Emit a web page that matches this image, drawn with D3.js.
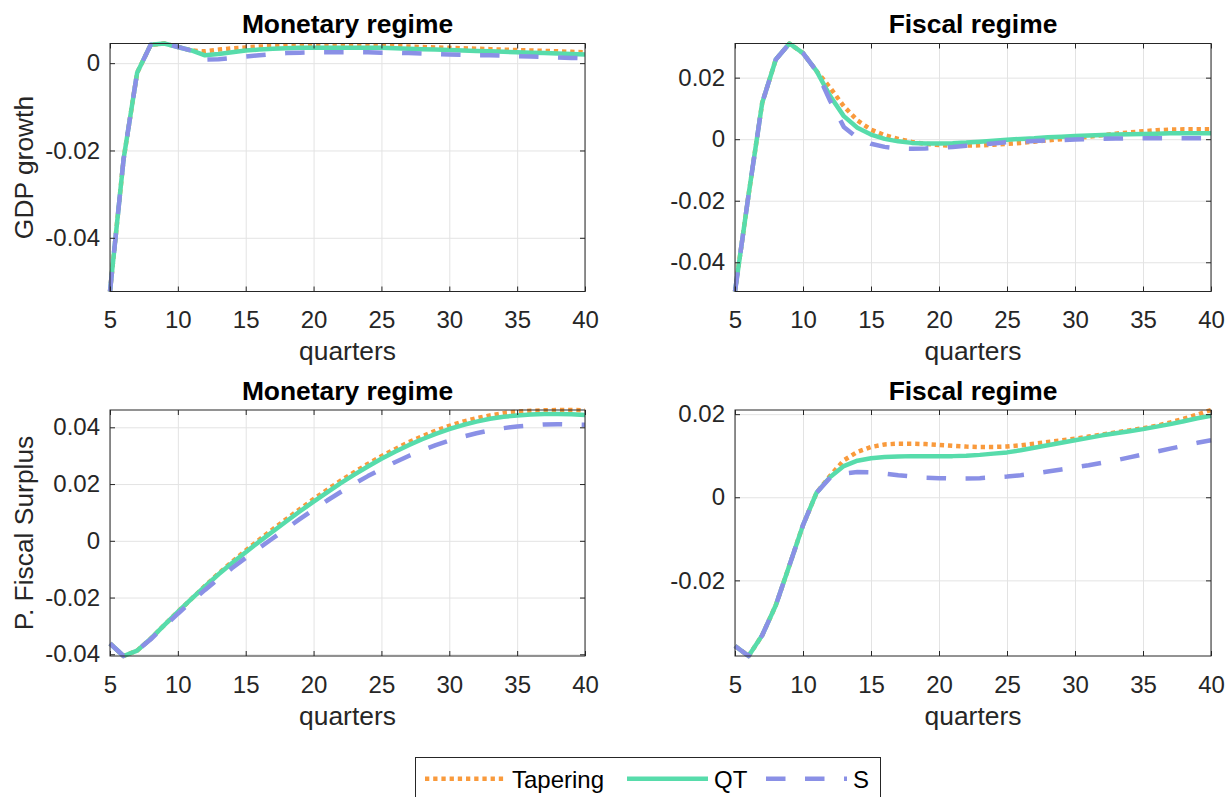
<!DOCTYPE html>
<html>
<head>
<meta charset="utf-8">
<script src="https://cdn.jsdelivr.net/npm/d3@7/dist/d3.min.js"></script>
<style>
  html, body { margin: 0; padding: 0; background: #ffffff; }
  svg { display: block; }
</style>
</head>
<body>
<svg id="chart" width="1229" height="797"></svg>
<script>
// ---- data: impulse responses over quarters 5..40 ----
const quarters = [5,6,7,8,9,10,11,12,13,14,15,16,17,18,19,20,21,22,23,24,25,26,27,28,29,30,31,32,33,34,35,36,37,38,39,40];

const seriesNames = ["Tapering", "QT", "S"];

// GDP growth, monetary regime
const gdpMonetaryTapering = [-0.0523,-0.0220,-0.0022,0.0042,0.0045,0.0037,0.0029,0.0027,0.0031,0.0034,0.0036,0.0038,0.0039,0.0040,0.0041,0.0041,0.0041,0.0041,0.0041,0.0041,0.0040,0.0039,0.0038,0.0037,0.0036,0.0035,0.0034,0.0033,0.0032,0.0031,0.0030,0.0029,0.0028,0.0027,0.0026,0.0025];
const gdpMonetaryQT = [-0.0523,-0.0220,-0.0022,0.0042,0.0045,0.0037,0.0029,0.0018,0.0021,0.0025,0.0029,0.0031,0.0033,0.0034,0.0035,0.0035,0.0035,0.0035,0.0035,0.0035,0.0035,0.0034,0.0033,0.0032,0.0031,0.0030,0.0029,0.0028,0.0027,0.0026,0.0025,0.0024,0.0023,0.0022,0.0021,0.0020];
const gdpMonetaryS = [-0.0523,-0.0220,-0.0022,0.0042,0.0045,0.0037,0.0029,0.0008,0.0009,0.0012,0.0015,0.0018,0.0021,0.0023,0.0024,0.0025,0.0025,0.0025,0.0025,0.0025,0.0024,0.0024,0.0023,0.0022,0.0021,0.0020,0.0019,0.0018,0.0018,0.0017,0.0016,0.0015,0.0014,0.0013,0.0012,0.0011];

// GDP growth, fiscal regime
const gdpFiscalTapering = [-0.0495,-0.0180,0.0118,0.0259,0.0311,0.0280,0.0221,0.0167,0.0107,0.0061,0.0031,0.0013,0.0001,-0.0009,-0.0015,-0.0019,-0.0021,-0.0021,-0.0020,-0.0018,-0.0015,-0.0012,-0.0008,-0.0004,0.0000,0.0004,0.0008,0.0013,0.0018,0.0022,0.0026,0.0029,0.0031,0.0032,0.0032,0.0032];
const gdpFiscalQT = [-0.0495,-0.0180,0.0118,0.0259,0.0311,0.0280,0.0221,0.0140,0.0075,0.0037,0.0015,0.0001,-0.0007,-0.0012,-0.0014,-0.0014,-0.0013,-0.0011,-0.0008,-0.0005,-0.0002,0.0001,0.0003,0.0006,0.0008,0.0010,0.0012,0.0014,0.0015,0.0016,0.0017,0.0018,0.0019,0.0019,0.0019,0.0019];
const gdpFiscalS = [-0.0495,-0.0180,0.0118,0.0259,0.0311,0.0280,0.0221,0.0124,0.0040,0.0004,-0.0015,-0.0025,-0.0030,-0.0031,-0.0030,-0.0028,-0.0025,-0.0021,-0.0018,-0.0014,-0.0010,-0.0008,-0.0006,-0.0004,-0.0003,-0.0001,0.0000,0.0001,0.0002,0.0003,0.0003,0.0003,0.0003,0.0003,0.0003,0.0003];

// Primary fiscal surplus, monetary regime
const surplusMonetaryTapering = [-0.0362,-0.0406,-0.0387,-0.0345,-0.0297,-0.0250,-0.0205,-0.0159,-0.0115,-0.0074,-0.0034,0.0004,0.0041,0.0077,0.0112,0.0147,0.0180,0.0212,0.0242,0.0271,0.0298,0.0323,0.0347,0.0368,0.0388,0.0405,0.0420,0.0432,0.0442,0.0450,0.0455,0.0458,0.0460,0.0461,0.0461,0.0460];
const surplusMonetaryQT = [-0.0362,-0.0406,-0.0387,-0.0345,-0.0297,-0.0250,-0.0205,-0.0161,-0.0118,-0.0078,-0.0040,-0.0003,0.0033,0.0069,0.0104,0.0138,0.0171,0.0203,0.0233,0.0262,0.0289,0.0314,0.0337,0.0358,0.0377,0.0394,0.0408,0.0420,0.0430,0.0437,0.0442,0.0445,0.0447,0.0447,0.0446,0.0443];
const surplusMonetaryS = [-0.0362,-0.0406,-0.0387,-0.0347,-0.0302,-0.0257,-0.0214,-0.0173,-0.0134,-0.0096,-0.0060,-0.0025,0.0009,0.0043,0.0077,0.0110,0.0142,0.0172,0.0201,0.0228,0.0253,0.0277,0.0299,0.0319,0.0337,0.0353,0.0367,0.0379,0.0389,0.0397,0.0403,0.0407,0.0410,0.0411,0.0410,0.0409];

// Primary fiscal surplus, fiscal regime
const surplusFiscalTapering = [-0.0358,-0.0382,-0.0332,-0.0260,-0.0164,-0.0067,0.0011,0.0052,0.0089,0.0109,0.0121,0.0127,0.0129,0.0129,0.0128,0.0126,0.0124,0.0122,0.0121,0.0121,0.0122,0.0125,0.0129,0.0133,0.0137,0.0141,0.0146,0.0151,0.0156,0.0161,0.0166,0.0172,0.0180,0.0189,0.0199,0.0210];
const surplusFiscalQT = [-0.0358,-0.0382,-0.0332,-0.0260,-0.0164,-0.0067,0.0011,0.0049,0.0075,0.0088,0.0094,0.0097,0.0098,0.0099,0.0099,0.0099,0.0099,0.0100,0.0102,0.0105,0.0108,0.0113,0.0119,0.0125,0.0131,0.0137,0.0143,0.0149,0.0154,0.0159,0.0164,0.0170,0.0176,0.0183,0.0190,0.0196];
const surplusFiscalS = [-0.0358,-0.0382,-0.0332,-0.0260,-0.0164,-0.0067,0.0011,0.0047,0.0057,0.0061,0.0060,0.0057,0.0053,0.0050,0.0047,0.0046,0.0045,0.0045,0.0046,0.0048,0.0050,0.0053,0.0057,0.0062,0.0067,0.0072,0.0077,0.0083,0.0089,0.0096,0.0103,0.0110,0.0117,0.0124,0.0131,0.0137];

// tick values
const xTickValues = [5, 10, 15, 20, 25, 30, 35, 40];
const gdpMonetaryTicks = [-0.04, -0.02, 0];
const gdpFiscalTicks = [-0.04, -0.02, 0, 0.02];
const surplusMonetaryTicks = [-0.04, -0.02, 0, 0.02, 0.04];
const surplusFiscalTicks = [-0.02, 0, 0.02];

// ---- styling ----
const FONT = "'Liberation Sans', Arial, Helvetica, sans-serif";
const AXIS_COLOR = "#262626";
const GRID_COLOR = "#e3e3e3";
const styles = {
  Tapering: { color: "#f99a3c", dash: "4.3,3.9", width: 4.5 },
  QT:       { color: "#57dcab", dash: null,      width: 4.5 },
  S:        { color: "#8a90e6", dash: "19.5,19.5", width: 4.5 }
};

const panels = [
  { title: "Monetary regime", ylabel: "GDP growth", ticks: gdpMonetaryTicks,
    data: [gdpMonetaryTapering, gdpMonetaryQT, gdpMonetaryS],
    box: { x0: 110, x1: 585, y0: 43.5, y1: 291.5 } },
  { title: "Fiscal regime", ylabel: null, ticks: gdpFiscalTicks,
    data: [gdpFiscalTapering, gdpFiscalQT, gdpFiscalS],
    box: { x0: 735, x1: 1211, y0: 43.5, y1: 291.5 } },
  { title: "Monetary regime", ylabel: "P. Fiscal Surplus", ticks: surplusMonetaryTicks,
    data: [surplusMonetaryTapering, surplusMonetaryQT, surplusMonetaryS],
    box: { x0: 110, x1: 585, y0: 410, y1: 656 } },
  { title: "Fiscal regime", ylabel: null, ticks: surplusFiscalTicks,
    data: [surplusFiscalTapering, surplusFiscalQT, surplusFiscalS],
    box: { x0: 735, x1: 1211, y0: 410, y1: 656 } }
];

const svg = d3.select("#chart");
const fmt = v => (v === 0 ? "0" : String(+v.toFixed(2)));

panels.forEach((p, i) => {
  const { x0, x1, y0, y1 } = p.box;
  const w = x1 - x0, h = y1 - y0;
  const all = p.data.flat();
  const x = d3.scaleLinear().domain([quarters[0], quarters[quarters.length - 1]]).range([0, w]);
  const y = d3.scaleLinear().domain(d3.extent(all)).range([h, 0]);

  const g = svg.append("g").attr("transform", `translate(${x0},${y0})`);

  g.append("rect").attr("width", w).attr("height", h).attr("fill", "#fff");

  // grid
  g.append("g").attr("transform", `translate(0,${h})`)
    .call(d3.axisBottom(x).tickValues(xTickValues).tickSize(-h).tickFormat(""))
    .call(s => s.select(".domain").remove())
    .call(s => s.selectAll("line").attr("stroke", GRID_COLOR).attr("stroke-width", 1));
  g.append("g")
    .call(d3.axisLeft(y).tickValues(p.ticks).tickSize(-w).tickFormat(""))
    .call(s => s.select(".domain").remove())
    .call(s => s.selectAll("line").attr("stroke", GRID_COLOR).attr("stroke-width", 1));

  // series
  const clipId = "clip" + i;
  g.append("clipPath").attr("id", clipId).append("rect")
    .attr("x", -3).attr("y", -3).attr("width", w + 6).attr("height", h + 6);
  const line = d3.line().x((d, k) => x(quarters[k])).y(d => y(d));
  seriesNames.forEach((name, k) => {
    const st = styles[name];
    g.append("path")
      .datum(p.data[k])
      .attr("clip-path", `url(#${clipId})`)
      .attr("d", line)
      .attr("fill", "none")
      .attr("stroke", st.color)
      .attr("stroke-width", st.width)
      .attr("stroke-dasharray", st.dash)
      .attr("stroke-linejoin", "round");
  });

  // axes with inward ticks on all four sides
  const styleAxis = s => {
    s.attr("font-size", 24).attr("font-family", FONT).attr("color", AXIS_COLOR);
    s.select(".domain").remove();
    s.selectAll("line").attr("stroke-width", 1);
  };
  g.append("g").attr("transform", `translate(0,${h})`)
    .call(d3.axisBottom(x).tickValues(xTickValues).tickSize(-5).tickPadding(19.5).tickFormat(d3.format("d")))
    .call(styleAxis);
  g.append("g")
    .call(d3.axisTop(x).tickValues(xTickValues).tickSize(-5).tickFormat(""))
    .call(styleAxis);
  g.append("g")
    .call(d3.axisLeft(y).tickValues(p.ticks).tickSize(-5).tickPadding(10).tickFormat(fmt))
    .call(styleAxis);
  g.append("g").attr("transform", `translate(${w},0)`)
    .call(d3.axisRight(y).tickValues(p.ticks).tickSize(-5).tickFormat(""))
    .call(styleAxis);

  g.append("rect").attr("width", w).attr("height", h)
    .attr("fill", "none").attr("stroke", AXIS_COLOR).attr("stroke-width", 1);

  // title and labels
  g.append("text").attr("x", w / 2).attr("y", -10.5)
    .attr("text-anchor", "middle").attr("font-family", FONT)
    .attr("font-size", 26.4).attr("font-weight", "bold").attr("fill", "#000")
    .text(p.title);
  g.append("text").attr("x", w / 2).attr("y", h + 68.5)
    .attr("text-anchor", "middle").attr("font-family", FONT)
    .attr("font-size", 26.4).attr("fill", AXIS_COLOR)
    .text("quarters");
  if (p.ylabel) {
    g.append("text")
      .attr("transform", `translate(${33 - x0},${h / 2}) rotate(-90)`)
      .attr("text-anchor", "middle").attr("font-family", FONT)
      .attr("font-size", 26.4).attr("fill", AXIS_COLOR)
      .text(p.ylabel);
  }
});

// ---- legend ----
const legend = svg.append("g");
legend.append("rect").attr("x", 415.5).attr("y", 757.5).attr("width", 465).attr("height", 60)
  .attr("fill", "#fff").attr("stroke", AXIS_COLOR).attr("stroke-width", 1);
const legendItems = [
  { name: "Tapering", lx0: 425, lx1: 506, tx: 512 },
  { name: "QT",       lx0: 627, lx1: 708, tx: 714 },
  { name: "S",        lx0: 766, lx1: 847, tx: 853 }
];
legendItems.forEach(it => {
  const st = styles[it.name];
  legend.append("line")
    .attr("x1", it.lx0).attr("x2", it.lx1).attr("y1", 778.7).attr("y2", 778.7)
    .attr("stroke", st.color).attr("stroke-width", st.width)
    .attr("stroke-dasharray", st.dash);
  legend.append("text").attr("x", it.tx).attr("y", 787.5)
    .attr("font-family", FONT).attr("font-size", 24).attr("fill", "#000")
    .text(it.name);
});
</script>
</body>
</html>
